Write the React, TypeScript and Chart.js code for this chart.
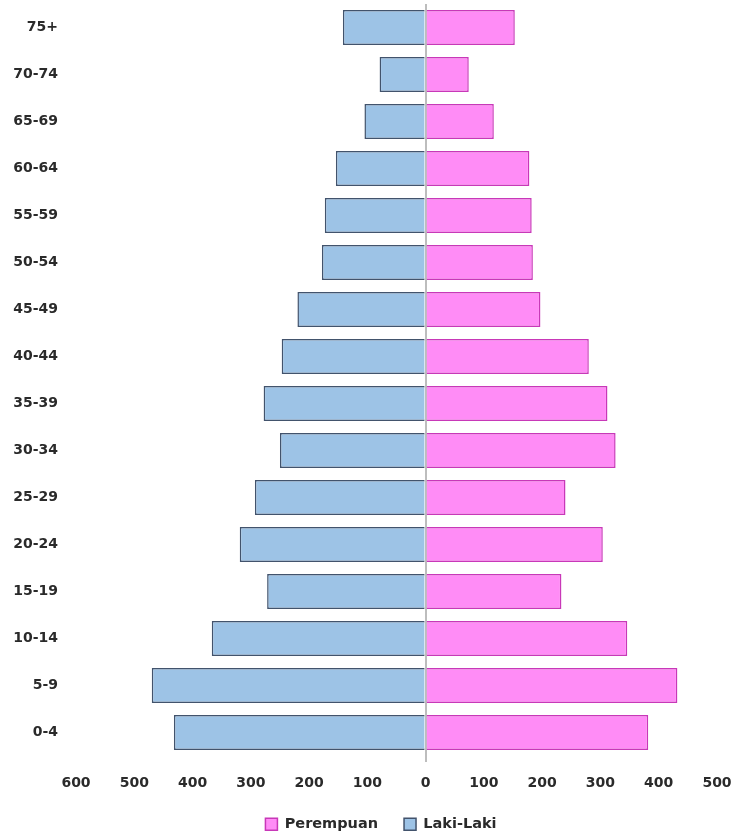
import React, { useEffect, useRef } from "react";
import { Chart, registerables } from "chart.js";

Chart.register(...registerables);

const ageGroups = ["0-4", "5-9", "10-14", "15-19", "20-24", "25-29", "30-34", "35-39", "40-44", "45-49", "50-54", "55-59", "60-64", "65-69", "70-74", "75+"];
const perempuan = [382, 432, 346, 233, 304, 240, 326, 312, 280, 197, 184, 182, 178, 117, 74, 153];
const lakiLaki = [432, 470, 367, 272, 319, 293, 250, 278, 247, 220, 178, 173, 154, 105, 79, 142];
const xMin = -600;
const xMax = 500;

const legendShift = {
  id: "legendShift",
  afterLayout(chart: any) {
    if (chart.legend) {
      chart.legend.left += 45;
    }
  },
};

export default function App() {
  const ref = useRef<HTMLCanvasElement | null>(null);

  useEffect(() => {
    if (!ref.current) return;
    const font = "'DejaVu Sans', sans-serif";
    const chart = new Chart(ref.current, {
      type: "bar",
      data: {
        labels: ageGroups,
        datasets: [
          {
            label: "Perempuan",
            data: perempuan,
            backgroundColor: "#ff8cf6",
            borderColor: "#c838b8",
            borderWidth: 1.5,
            barPercentage: 0.745,
            categoryPercentage: 1,
          },
          {
            label: "Laki-Laki",
            data: lakiLaki.map((v) => -v),
            backgroundColor: "#9dc3e6",
            borderColor: "#42536c",
            borderWidth: 1.5,
            barPercentage: 0.745,
            categoryPercentage: 1,
          },
        ],
      },
      options: {
        indexAxis: "y",
        animation: false,
        responsive: false,
        layout: { padding: { top: 4, right: 20, left: 0, bottom: 0 } },
        scales: {
          x: {
            stacked: true,
            min: xMin,
            max: xMax,
            afterFit: (s: any) => {
              s.height = 35;
            },
            ticks: {
              stepSize: 100,
              padding: 0,
              color: "#2a2a2a",
              font: { family: font, size: 14, weight: "bold", lineHeight: "42px" },
              callback: (v: any) => String(Math.abs(Number(v))),
            },
            grid: {
              drawTicks: true,
              tickLength: 6,
              lineWidth: 2,
              color: (ctx: any) => (ctx.tick && ctx.tick.value === 0 ? "#bdbdbd" : "rgba(0,0,0,0)"),
            },
            border: { display: false },
          },
          y: {
            stacked: true,
            reverse: true,
            afterFit: (s: any) => {
              s.width = 76;
            },
            ticks: {
              padding: 0,
              color: "#2a2a2a",
              font: { family: font, size: 14, weight: "bold", lineHeight: 0.5 },
            },
            grid: {
              display: true,
              drawOnChartArea: false,
              drawTicks: true,
              tickLength: 18,
              color: "rgba(0,0,0,0)",
            },
            border: { display: false },
          },
        },
        plugins: {
          legend: {
            position: "bottom",
            maxHeight: 44,
            labels: {
              padding: 26,
              boxWidth: 12,
              boxHeight: 12,
              color: "#2a2a2a",
              font: { family: font, size: 14.5, weight: "bold" },
            },
          },
          tooltip: { enabled: false },
        },
      },
      plugins: [legendShift],
    });
    return () => chart.destroy();
  }, []);

  return (
    <div style={{ position: "fixed", left: 0, top: 0, width: 737, height: 835, background: "#fff" }}>
      <canvas ref={ref} width={737} height={835} style={{ width: 737, height: 835, display: "block" }} />
    </div>
  );
}
